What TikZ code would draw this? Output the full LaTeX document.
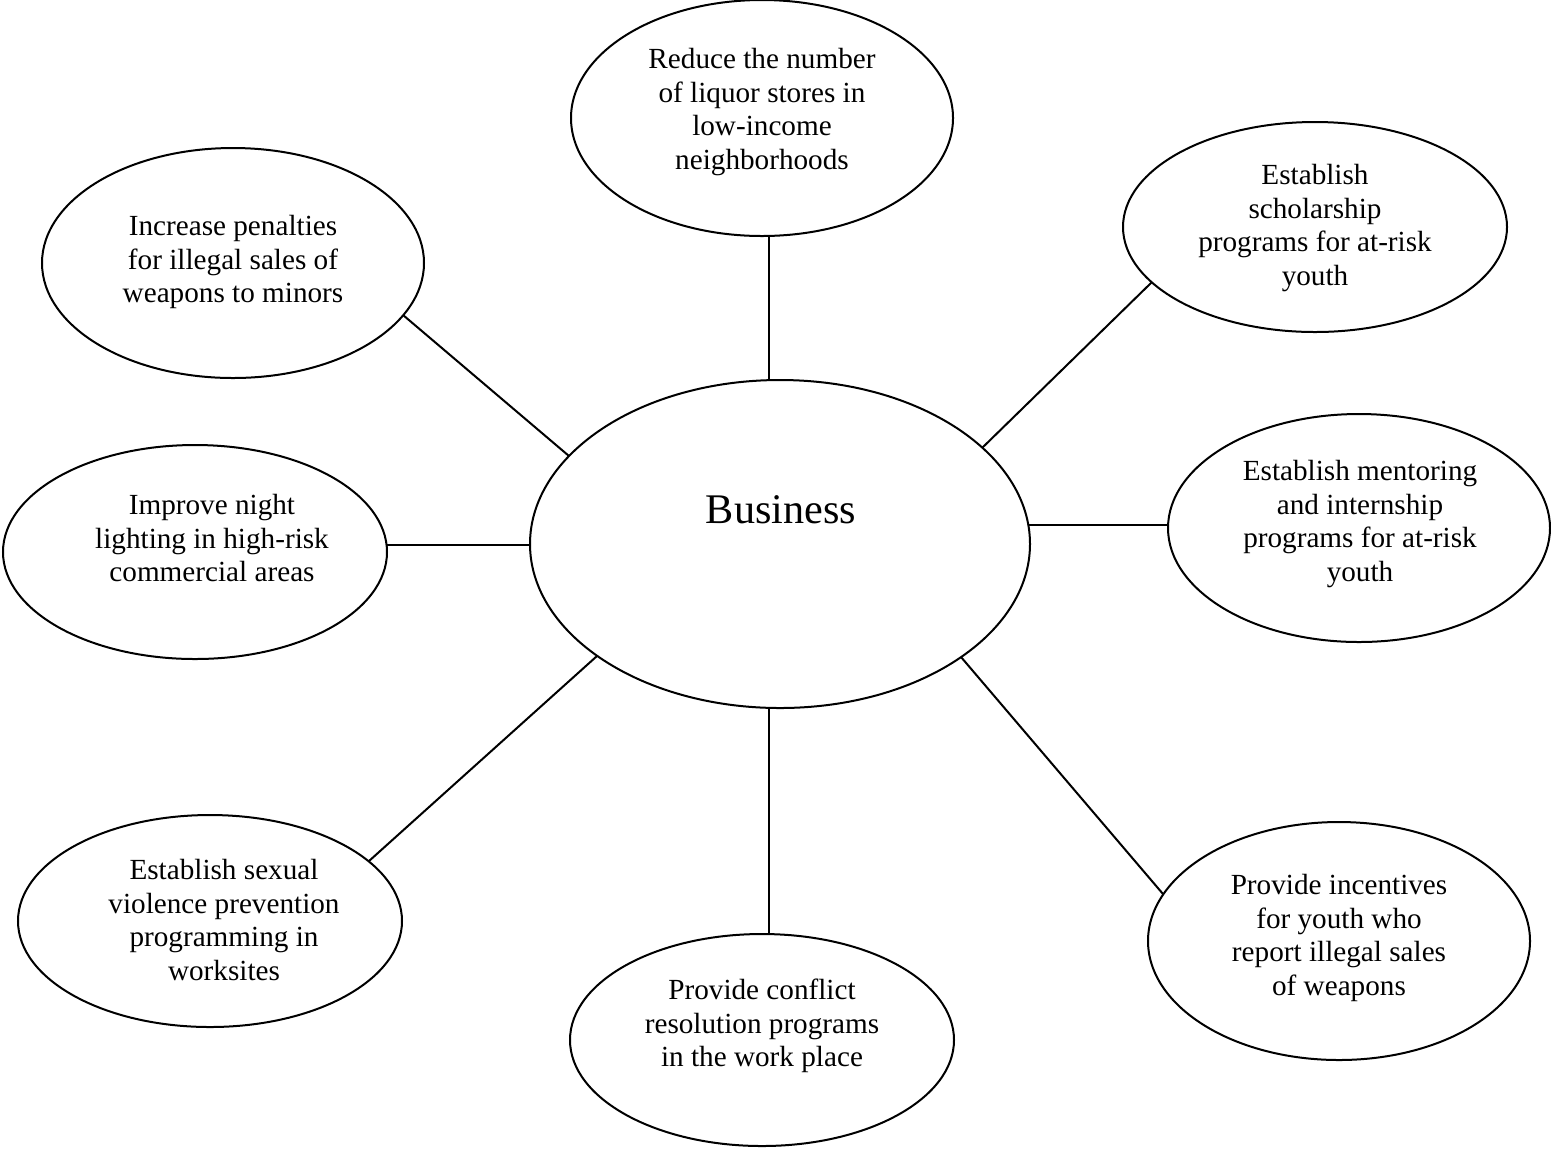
\documentclass[tikz,border=0pt]{standalone}
\usepackage{fontspec}
\setmainfont{Liberation Serif}
\usetikzlibrary{shapes.geometric,calc}
\begin{document}
\begin{tikzpicture}[x=0.5pt,y=-0.5pt,
  oval/.style={ellipse,draw,line width=1pt,inner sep=0pt,outer sep=0pt},
  lbl/.style={align=center,inner sep=0pt,font=\fontsize{14.6}{16.9}\selectfont},
  conn/.style={line width=1pt}]
\useasboundingbox (0,0) rectangle (1551,1148);
% ellipses
\node[oval,minimum width=250pt,minimum height=164pt] (c) at (780,544) {};
\node[oval,minimum width=191pt,minimum height=118pt] (t) at (762,118) {};
\node[oval,minimum width=191pt,minimum height=115pt] (tl) at (233,263) {};
\node[oval,minimum width=192pt,minimum height=105pt] (tr) at (1315,227) {};
\node[oval,minimum width=192pt,minimum height=107pt] (l) at (195,552) {};
\node[oval,minimum width=191pt,minimum height=114pt] (r) at (1359,528) {};
\node[oval,minimum width=192pt,minimum height=106pt] (bl) at (210,921) {};
\node[oval,minimum width=192pt,minimum height=106pt] (b) at (762,1040) {};
\node[oval,minimum width=191pt,minimum height=119pt] (br) at (1339,941) {};
% texts
\node[inner sep=0pt,font=\fontsize{21.1}{25}\selectfont] (ct) at (781,510) {Business};
\node[lbl] (tt) at (762,112) {Reduce the number\\of liquor stores in\\low-income\\neighborhoods};
\node[lbl] (tlt) at (233,262) {Increase penalties\\for illegal sales of\\weapons to minors};
\node[lbl] (trt) at (1315,228) {Establish\\scholarship\\programs for at-risk\\youth};
\node[lbl] (lt) at (212,538) {Improve night\\lighting in high-risk\\commercial areas};
\node[lbl] (rt) at (1360,524) {Establish mentoring\\and internship\\programs for at-risk\\youth};
\node[lbl] (blt) at (224,920) {Establish sexual\\violence prevention\\programming in\\worksites};
\node[lbl] (bt) at (762,1026) {Provide conflict\\resolution programs\\in the work place};
\node[lbl] (brt) at (1339,938) {Provide incentives\\for youth who\\report illegal sales\\of weapons};
% connectors
\draw[conn] ($(c)+(-11,-164)$) -- ($(t)+(7,118)$);
\draw[conn] ($(c)+(-211,-88)$) -- ($(tl)+(170,52)$);
\draw[conn] ($(c)+(202,-96)$) -- ($(tr)+(-163,55)$);
\draw[conn] ($(c)+(-250,1)$) -- ($(l)+(192,-7)$);
\draw[conn] ($(c)+(249,-19)$) -- ($(r)+(-191,-3)$);
\draw[conn] ($(c)+(-183,112)$) -- ($(bl)+(159,-60)$);
\draw[conn] ($(c)+(-11,164)$) -- ($(b)+(7,-106)$);
\draw[conn] ($(c)+(181,113)$) -- ($(br)+(-176,-47)$);
\end{tikzpicture}
\end{document}
